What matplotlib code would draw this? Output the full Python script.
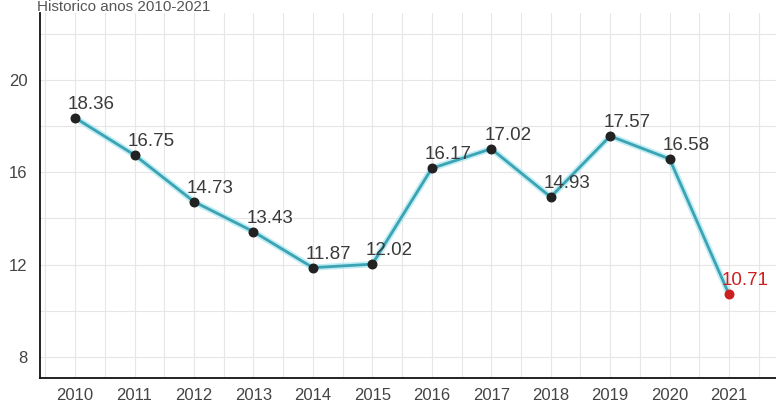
import matplotlib.pyplot as plt
from matplotlib.ticker import MultipleLocator

# ---------------------------------------------------------------------------
# Data
# ---------------------------------------------------------------------------
years  = [2010, 2011, 2012, 2013, 2014, 2015, 2016, 2017, 2018, 2019, 2020, 2021]
values = [18.36, 16.75, 14.73, 13.43, 11.87, 12.02, 16.17, 17.02, 14.93, 17.57, 16.58, 10.71]
title  = "Historico anos 2010-2021"

LINE_C  = "#3ba3b3"
GLOW_C  = "#a6e6f0"
POINT_C = "#222222"
LAST_C  = "#cc1f1f"
TEXT_C  = "#3a3a3a"

plt.rcParams["font.family"] = ["Liberation Sans", "DejaVu Sans"]

fig = plt.figure(figsize=(7.76, 4.05), dpi=100)
ax = fig.add_axes([40 / 776, 1 - 378 / 405, 1 - 40 / 776, (378 - 13) / 405])

ax.plot(years, values, color=GLOW_C, lw=4.5, alpha=0.7, solid_capstyle="round", zorder=2)
ax.plot(years, values, color=LINE_C, lw=2.0, zorder=3)
ax.scatter(years[:-1], values[:-1], s=38, color=POINT_C, zorder=4)
ax.scatter(years[-1:], values[-1:], s=38, color=LAST_C, zorder=4)

for i, (x, y) in enumerate(zip(years, values)):
    last = i == len(years) - 1
    ax.annotate(f"{y:.2f}", (x, y), xytext=(-7, 9), textcoords="offset pixels",
                ha="left", va="baseline", fontsize=13.5,
                color=LAST_C if last else TEXT_C, zorder=5)

ax.set_xlim(2009.41, 2021.79)
ax.set_ylim(7.09, 22.9)
ax.xaxis.set_major_locator(MultipleLocator(1))
ax.xaxis.set_minor_locator(MultipleLocator(0.5))
ax.yaxis.set_major_locator(MultipleLocator(4))
ax.yaxis.set_minor_locator(MultipleLocator(2))
ax.set_xticks(years)

ax.grid(True, which="both", color="#e6e6e6", lw=0.8)
ax.set_axisbelow(True)
ax.tick_params(which="both", length=0, labelsize=12, labelcolor="#444444")
ax.tick_params(axis="x", pad=7)
ax.tick_params(axis="y", pad=9)

for side in ("top", "right"):
    ax.spines[side].set_visible(False)
for side in ("left", "bottom"):
    ax.spines[side].set_color("#111111")
    ax.spines[side].set_linewidth(1.3)

fig.text(37 / 776, 1 - 11 / 405, title, fontsize=11, color="#555555",
         ha="left", va="baseline")

fig.savefig("out.png", dpi=100)
